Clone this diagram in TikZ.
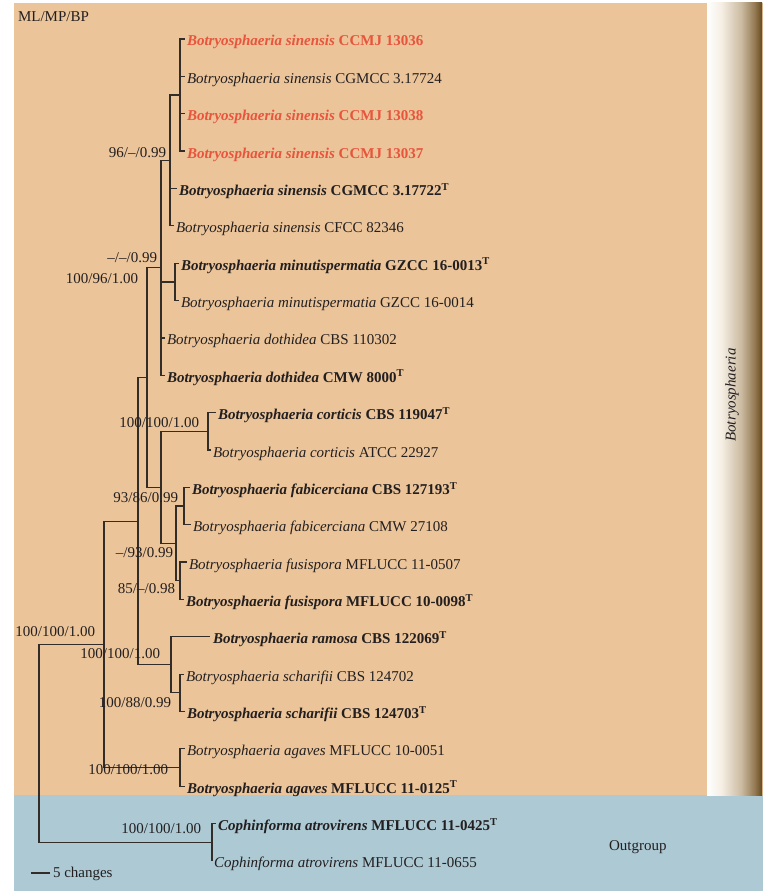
\documentclass[tikz,border=0pt]{standalone}
\usepackage{fontspec}
\setmainfont{Liberation Serif}
\definecolor{orangebg}{RGB}{235,196,153}
\definecolor{bluebg}{RGB}{172,201,212}
\definecolor{redtx}{RGB}{232,84,60}
\definecolor{txt}{RGB}{35,31,32}
\definecolor{linec}{RGB}{50,45,40}
\definecolor{barA}{RGB}{244,237,226}
\definecolor{barB}{RGB}{200,183,156}
\definecolor{barC}{RGB}{140,112,72}
\definecolor{barD}{RGB}{100,75,35}
\newcommand{\Ty}{\textsuperscript{T}}
\begin{document}
\begin{tikzpicture}[x=1pt,y=-1pt,
  every node/.style={font=\fontsize{15}{18}\selectfont, text=txt, inner sep=0pt, outer sep=0pt},
  branch/.style={draw=linec, line width=1.2pt},
  taxon/.style={anchor=base west},
  newtaxon/.style={anchor=base west, text=redtx},
  supp/.style={anchor=base east}]
\useasboundingbox (0,0) rectangle (774,896);
% backgrounds
\fill[orangebg] (14,3) rectangle (763,795);
\fill[bluebg] (14,795) rectangle (763,891);
\shade[left color=white, right color=barA] (707,3) rectangle (722.5,795);
\shade[left color=barA, right color=barB] (722,3) rectangle (742.5,795);
\shade[left color=barB, right color=barC] (742,3) rectangle (756.5,795);
\shade[left color=barC, right color=barD] (756,3) rectangle (762,795);
\node[rotate=90] (grp) at (732,395) {\itshape Botryosphaeria};
\node[anchor=base west] (outg) at (609,850) {Outgroup};
\node[anchor=base west] (mlmp) at (18,22) {ML/MP/BP};
% tip coordinates
\coordinate (t1) at (185,39);
\coordinate (t2) at (185,76.4);
\coordinate (t3) at (185,113.7);
\coordinate (t4) at (185,151.1);
\coordinate (t5) at (177,188.4);
\coordinate (t6) at (174,225.8);
\coordinate (t7) at (179,263.2);
\coordinate (t8) at (179,300.5);
\coordinate (t9) at (165,337.9);
\coordinate (t10) at (165,375.2);
\coordinate (t11) at (216,412.6);
\coordinate (t12) at (211,450.0);
\coordinate (t13) at (190,487.3);
\coordinate (t14) at (191,524.7);
\coordinate (t15) at (187,562.0);
\coordinate (t16) at (184,599.4);
\coordinate (t17) at (210,636.8);
\coordinate (t18) at (184,674.1);
\coordinate (t19) at (185,711.5);
\coordinate (t20) at (185,748.8);
\coordinate (t21) at (185,786.2);
\coordinate (t22) at (216,823.6);
\coordinate (t23) at (212,860.9);
% internal nodes
\coordinate (A) at (180,95.1);
\coordinate (B) at (170,160.4);
\coordinate (Mi) at (175,281.9);
\coordinate (C) at (161,267.8);
\coordinate (Co) at (208,431.3);
\coordinate (Fa) at (184,506);
\coordinate (Fu) at (180,580.7);
\coordinate (FF) at (176,543.4);
\coordinate (D) at (161,487.4);
\coordinate (E) at (147,377.6);
\coordinate (Sc) at (180,692.8);
\coordinate (R) at (171,664.8);
\coordinate (F) at (138,521.2);
\coordinate (Ag) at (180,767.5);
\coordinate (G) at (104,644.4);
\coordinate (Cp) at (212,842.3);
\coordinate (root) at (39,743.4);
% branches
\draw[branch] (A) |- (t1) (A) |- (t2) (A) |- (t3) (A) |- (t4);
\draw[branch] (B) |- (A) (B) |- (t5) (B) |- (t6);
\draw[branch] (Mi) |- (t7) (Mi) |- (t8);
\draw[branch] (C) |- (B) (C) |- (Mi) (C) |- (t9) (C) |- (t10);
\draw[branch] (Co) |- (t11) (Co) |- (t12);
\draw[branch] (Fa) |- (t13) (Fa) |- (t14);
\draw[branch] (Fu) |- (t15) (Fu) |- (t16);
\draw[branch] (FF) |- (Fa) (FF) |- (Fu);
\draw[branch] (D) |- (Co) (D) |- (FF);
\draw[branch] (E) |- (C) (E) |- (D);
\draw[branch] (Sc) |- (t18) (Sc) |- (t19);
\draw[branch] (R) |- (t17) (R) |- (Sc);
\draw[branch] (F) |- (E) (F) |- (R);
\draw[branch] (Ag) |- (t20) (Ag) |- (t21);
\draw[branch] (G) |- (F) (G) |- (Ag);
\draw[branch] (Cp) |- (t22) (Cp) |- (t23);
\draw[branch] (root) |- (G) (root) |- (Cp);
% taxa
\node[newtaxon] (n1) at (187,46) {\textbf{\textit{Botryosphaeria sinensis} CCMJ 13036}};
\node[taxon] (n2) at (187,83.4) {\textit{Botryosphaeria sinensis} CGMCC 3.17724};
\node[newtaxon] (n3) at (187,120.7) {\textbf{\textit{Botryosphaeria sinensis} CCMJ 13038}};
\node[newtaxon] (n4) at (187,158.1) {\textbf{\textit{Botryosphaeria sinensis} CCMJ 13037}};
\node[taxon] (n5) at (179,195.4) {\textbf{\textit{Botryosphaeria sinensis} CGMCC 3.17722\Ty}};
\node[taxon] (n6) at (176,232.8) {\textit{Botryosphaeria sinensis} CFCC 82346};
\node[taxon] (n7) at (181,270.2) {\textbf{\textit{Botryosphaeria minutispermatia} GZCC 16-0013\Ty}};
\node[taxon] (n8) at (181,307.5) {\textit{Botryosphaeria minutispermatia} GZCC 16-0014};
\node[taxon] (n9) at (167,344.9) {\textit{Botryosphaeria dothidea} CBS 110302};
\node[taxon] (n10) at (167,382.2) {\textbf{\textit{Botryosphaeria dothidea} CMW 8000\Ty}};
\node[taxon] (n11) at (218,419.6) {\textbf{\textit{Botryosphaeria corticis} CBS 119047\Ty}};
\node[taxon] (n12) at (213,457.0) {\textit{Botryosphaeria corticis} ATCC 22927};
\node[taxon] (n13) at (192,494.3) {\textbf{\textit{Botryosphaeria fabicerciana} CBS 127193\Ty}};
\node[taxon] (n14) at (193,531.7) {\textit{Botryosphaeria fabicerciana} CMW 27108};
\node[taxon] (n15) at (189,569.0) {\textit{Botryosphaeria fusispora} MFLUCC 11-0507};
\node[taxon] (n16) at (186,606.4) {\textbf{\textit{Botryosphaeria fusispora} MFLUCC 10-0098\Ty}};
\node[taxon] (n17) at (213,643.8) {\textbf{\textit{Botryosphaeria ramosa} CBS 122069\Ty}};
\node[taxon] (n18) at (186,681.1) {\textit{Botryosphaeria scharifii} CBS 124702};
\node[taxon] (n19) at (187,718.5) {\textbf{\textit{Botryosphaeria scharifii} CBS 124703\Ty}};
\node[taxon] (n20) at (187,755.8) {\textit{Botryosphaeria agaves} MFLUCC 10-0051};
\node[taxon] (n21) at (187,793.2) {\textbf{\textit{Botryosphaeria agaves} MFLUCC 11-0125\Ty}};
\node[taxon] (n22) at (218,830.6) {\textbf{\textit{Cophinforma atrovirens} MFLUCC 11-0425\Ty}};
\node[taxon] (n23) at (214,867.9) {\textit{Cophinforma atrovirens} MFLUCC 11-0655};
% support values
\node[supp] (s1) at (166,158) {96/--/0.99};
\node[supp] (s2) at (157,262) {--/--/0.99};
\node[supp] (s3) at (138,283) {100/96/1.00};
\node[supp] (s4) at (199,427) {100/100/1.00};
\node[supp] (s5) at (178,502) {93/86/0.99};
\node[supp] (s6) at (173,557) {--/93/0.99};
\node[supp] (s7) at (175,593) {85/--/0.98};
\node[supp] (s8) at (95,636) {100/100/1.00};
\node[supp] (s9) at (160,658) {100/100/1.00};
\node[supp] (s10) at (171,707) {100/88/0.99};
\node[supp] (s11) at (168,774) {100/100/1.00};
\node[supp] (s12) at (201,833) {100/100/1.00};
% scale bar
\coordinate (sb1) at (31,873);
\coordinate (sb2) at (50,873);
\draw[branch] (sb1) -- (sb2);
\node[anchor=base west] (sbt) at (53,877) {5 changes};
\end{tikzpicture}
\end{document}
